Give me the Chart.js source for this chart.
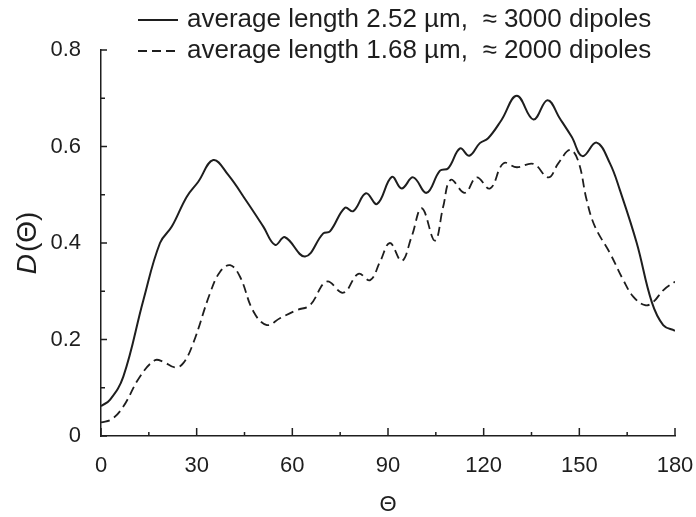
<!DOCTYPE html>
<html>
<head>
<meta charset="utf-8">
<script src="https://cdn.jsdelivr.net/npm/chart.js@4/dist/chart.umd.min.js"></script>
<style>
  html, body { margin: 0; padding: 0; background: #fff; }
  #wrap { width: 696px; height: 517px; }
</style>
</head>
<body>
<div id="wrap"><canvas id="dChart" width="696" height="517"></canvas></div>
<script>
// D(theta) curves for the two dipole ensembles
const longTheta = [0, 2.8, 7, 13.3, 18.5, 22.2, 26.9, 30.5, 35.2, 39.9, 45.7, 50.9, 54.6, 57.7, 64, 69.7, 71.8, 76.5, 79.1, 83.1, 86.6, 91.2, 94.3, 97.9, 102.1, 106.3, 108.9, 112.6, 115.5, 118.8, 121.4, 125.6, 130.4, 135.6, 140, 143.9, 147.6, 151, 155.4, 159.6, 162.7, 168, 172.7, 176.3, 180];
const longD = [0.062, 0.075, 0.123, 0.282, 0.40, 0.434, 0.496, 0.527, 0.572, 0.541, 0.486, 0.434, 0.396, 0.412, 0.372, 0.42, 0.424, 0.473, 0.466, 0.503, 0.481, 0.537, 0.513, 0.536, 0.504, 0.55, 0.555, 0.596, 0.581, 0.607, 0.617, 0.655, 0.705, 0.656, 0.696, 0.658, 0.62, 0.58, 0.608, 0.565, 0.51, 0.40, 0.278, 0.23, 0.218];

const shortTheta = [0, 3.4, 7, 12.2, 16.9, 19.5, 23.2, 25.8, 28.9, 34.2, 37.3, 40.5, 43.6, 47.8, 52, 56.1, 61.4, 65.5, 70.8, 76, 80.7, 84.4, 87.5, 90.6, 94.3, 97.4, 100.6, 104.7, 107.3, 109.7, 114.1, 117.8, 122, 126.2, 130.4, 135.6, 140.3, 143.4, 147.1, 149.7, 152.3, 154.9, 159.6, 163.8, 166.9, 170.6, 173.2, 176.3, 180];
const shortD = [0.028, 0.035, 0.061, 0.123, 0.157, 0.154, 0.142, 0.151, 0.192, 0.296, 0.34, 0.354, 0.33, 0.258, 0.23, 0.244, 0.261, 0.271, 0.32, 0.297, 0.336, 0.323, 0.361, 0.40, 0.363, 0.413, 0.472, 0.405, 0.475, 0.531, 0.504, 0.536, 0.513, 0.565, 0.557, 0.564, 0.536, 0.565, 0.593, 0.569, 0.489, 0.434, 0.379, 0.323, 0.289, 0.271, 0.278, 0.302, 0.32];

const seriesLabels = [
  'average length 2.52 \u00b5m,  \u2248 3000 dipoles',
  'average length 1.68 \u00b5m,  \u2248 2000 dipoles'
];

const xLabelTicks = [0, 30, 60, 90, 120, 150, 180];
const yLabelTicks = [0, 0.2, 0.4, 0.6, 0.8];

const INK = '#1e1e1e';
const FONT = '"Liberation Sans", Arial, sans-serif';

function toPoints(xs, ys) {
  return xs.map((x, i) => ({ x: x, y: ys[i] }));
}

function near(list, v) {
  return list.some(t => Math.abs(t - v) < 1e-6);
}

// tick marks point into the plot, plus legend and axis titles
const decorations = {
  id: 'decorations',
  afterDraw(chart) {
    const ctx = chart.ctx;
    const xs = chart.scales.x;
    const ys = chart.scales.y;
    const area = chart.chartArea;

    ctx.save();
    ctx.strokeStyle = INK;
    ctx.lineWidth = 1.5;
    ctx.beginPath();
    xs.ticks.forEach(t => {
      const px = xs.getPixelForValue(t.value);
      const len = near(xLabelTicks, t.value) ? 8 : 4;
      ctx.moveTo(px, area.bottom);
      ctx.lineTo(px, area.bottom - len);
    });
    ys.ticks.forEach(t => {
      const py = ys.getPixelForValue(t.value);
      const len = near(yLabelTicks, t.value) ? 6 : 4;
      ctx.moveTo(area.left, py);
      ctx.lineTo(area.left + len, py);
    });
    ctx.stroke();

    // legend
    ctx.font = '26px ' + FONT;
    ctx.fillStyle = INK;
    ctx.textBaseline = 'middle';
    ctx.textAlign = 'left';
    const rows = [20, 51];
    chart.data.datasets.forEach((ds, i) => {
      ctx.beginPath();
      ctx.lineWidth = ds.borderWidth;
      ctx.setLineDash(ds.borderDash || []);
      ctx.moveTo(138, rows[i]);
      ctx.lineTo(178, rows[i]);
      ctx.stroke();
      ctx.setLineDash([]);
      ctx.fillText(ds.label, 187, rows[i]);
    });

    // y title: italic D followed by (Θ)
    ctx.save();
    ctx.translate(28, 244);
    ctx.rotate(-Math.PI / 2);
    ctx.textBaseline = 'middle';
    const italic = 'italic 28px ' + FONT;
    const upright = '28px ' + FONT;
    ctx.font = italic;
    const wD = ctx.measureText('D').width;
    ctx.font = upright;
    const wRest = ctx.measureText('(\u0398)').width;
    const start = -(wD + wRest) / 2;
    ctx.font = italic;
    ctx.fillText('D', start, 0);
    ctx.font = upright;
    ctx.fillText('(\u0398)', start + wD + 2, 0);
    ctx.restore();

    // x title
    ctx.font = '22px ' + FONT;
    ctx.textAlign = 'center';
    ctx.fillText('\u0398', xs.getPixelForValue(90), 505);
    ctx.restore();
  }
};

const ctx = document.getElementById('dChart').getContext('2d');
new Chart(ctx, {
  type: 'line',
  data: {
    datasets: [
      {
        label: seriesLabels[0],
        data: toPoints(longTheta, longD),
        borderColor: INK,
        borderWidth: 2,
        pointRadius: 0,
        tension: 0.4,
        fill: false
      },
      {
        label: seriesLabels[1],
        data: toPoints(shortTheta, shortD),
        borderColor: INK,
        borderWidth: 1.8,
        borderDash: [9, 5],
        pointRadius: 0,
        tension: 0.4,
        fill: false
      }
    ]
  },
  options: {
    responsive: false,
    animation: false,
    layout: { padding: { top: 50, right: 21, left: 0, bottom: 0 } },
    plugins: {
      legend: { display: false },
      tooltip: { enabled: false }
    },
    scales: {
      x: {
        type: 'linear',
        min: 0,
        max: 180,
        grid: { display: false },
        border: { display: true, color: INK, width: 1.5 },
        ticks: {
          stepSize: 15,
          padding: 9,
          color: INK,
          font: { family: FONT, size: 22 },
          maxRotation: 0,
          autoSkip: false,
          callback: v => near(xLabelTicks, v) ? String(v) : ''
        },
        afterFit: scale => {
          scale.height = 81;
          scale.paddingLeft = 0;
          scale.paddingRight = 0;
        }
      },
      y: {
        min: 0,
        max: 0.8,
        grid: { display: false },
        border: { display: true, color: INK, width: 1.5 },
        ticks: {
          stepSize: 0.1,
          padding: 12,
          color: INK,
          font: { family: FONT, size: 22 },
          autoSkip: false,
          callback: v => near(yLabelTicks, v) ? String(Math.round(v * 10) / 10) : ''
        },
        afterFit: scale => {
          scale.width = 101;
          scale.paddingTop = 0;
          scale.paddingBottom = 0;
        }
      }
    }
  },
  plugins: [decorations]
});
</script>
</body>
</html>
